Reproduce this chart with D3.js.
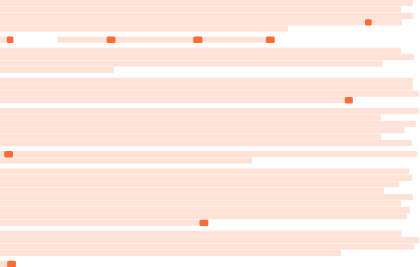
<!DOCTYPE html>
<html>
<head>
<meta charset="utf-8">
<script src="https://cdn.jsdelivr.net/npm/d3@7"></script>
<style>
  body { margin: 0; background: #fff; overflow: hidden; }
</style>
</head>
<body>
<script>
var width = 420,
    height = 267;

var lineHeight = 6.4,   // px per text line
    gapUnits = 0.72;    // paragraph gap, in lines

// number of lines in each paragraph
var paragraphLines = [5, 1, 4, 4, 6, 2, 9, 4, 1];

// length of every line, in characters (100 chars = full width)
var lineLengths = [
    98.3, 95.5, 98.3, 95.7, 68.6,
    65.5,
    95.5, 98.6, 91.1, 27.1,
    98.3, 98.3, 99.8, 84.0,
    99.8, 90.7, 99.0, 96.3, 90.7, 98.0,
    99.3, 60.0,
    97.4, 98.1, 95.0, 91.4, 98.3, 95.5, 97.6, 96.9, 49.5,
    95.6, 99.8, 98.6, 81.2,
    3.8
];

// blank stretches inside a line: [line, from, to]
var blanks = [[5, 3.1, 13.7]];

// highlighted matches: [line, start, length]
var hits = [
    [3, 86.9, 1.6],
    [5, 1.6, 1.6], [5, 25.4, 2.1], [5, 46.0, 2.2], [5, 63.3, 2.1],
    [13, 82.1, 1.9],
    [20, 1.0, 2.1],
    [30, 47.5, 2.1],
    [35, 1.7, 2.1]
];

// line index -> vertical position in line units (paragraph gaps included)
var lineOffset = [];
var u = 0;
paragraphLines.forEach(function (n, p) {
    if (p > 0) u += gapUnits;
    for (var i = 0; i < n; i++) { lineOffset.push(u); u += 1; }
});

var xScale = d3.scaleLinear().domain([0, 100]).range([0, width]);
var yScale = d3.scaleLinear().domain([0, 1]).range([0, lineHeight]);

// split lines into drawn segments
var segments = [];
lineLengths.forEach(function (len, i) {
    var start = 0;
    blanks.filter(function (b) { return b[0] == i; }).forEach(function (b) {
        segments.push({ line: i, x0: start, x1: b[1] });
        start = b[2];
    });
    segments.push({ line: i, x0: start, x1: len });
});

var svg = d3.select("body").append("svg")
    .attr("width", width)
    .attr("height", height);

// text lines
svg.append("g").selectAll("rect")
    .data(segments)
    .enter().append("rect")
    .attr("x", function (d) { return xScale(d.x0); })
    .attr("y", function (d) { return yScale(lineOffset[d.line]); })
    .attr("width", function (d) { return xScale(d.x1) - xScale(d.x0); })
    .attr("height", yScale(1) - 0.3)
    .attr("fill", "#ffe2d8");

// matches
svg.append("g").selectAll("rect")
    .data(hits)
    .enter().append("rect")
    .attr("x", function (d) { return xScale(d[1]); })
    .attr("y", function (d) { return yScale(lineOffset[d[0]]); })
    .attr("width", function (d) { return xScale(d[2]); })
    .attr("height", yScale(1))
    .attr("rx", 1.5)
    .attr("fill", "#ff6b35");
</script>
</body>
</html>
